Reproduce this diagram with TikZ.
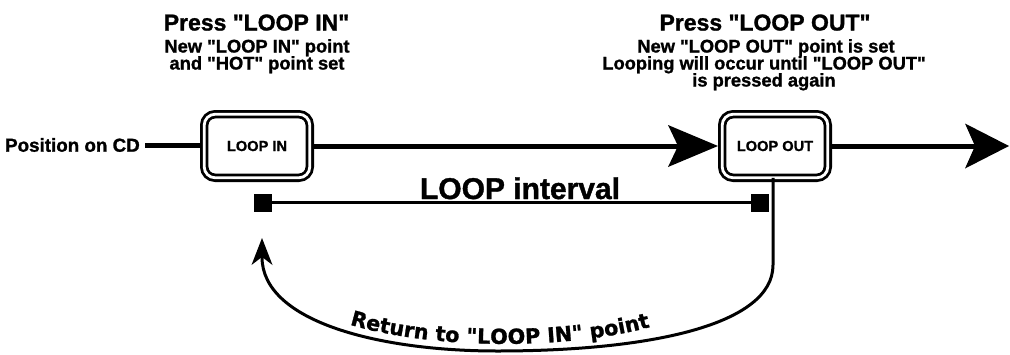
\documentclass[tikz,border=0pt]{standalone}
\usepackage{fontspec}
\setmainfont{Liberation Sans}[BoldFeatures={FakeBold=1.2}]
\newfontfamily\dejav{DejaVu Sans}[BoldFeatures={FakeBold=1.2}]
\newcommand\dq{\textquotedbl}
\usetikzlibrary{arrows.meta,decorations.text}
\begin{document}
\begin{tikzpicture}[x=1pt,y=-1pt,
  btn/.style={draw=black, double=white, line width=2.8pt, double distance=2.8pt,
    rounded corners=11pt, fill=white, minimum width=105.6pt, minimum height=63.6pt,
    outer sep=4.2pt, inner sep=0pt, font=\bfseries\fontsize{14.6}{14.6}\selectfont},
  titlef/.style={anchor=base, inner sep=0pt, font=\bfseries\fontsize{23}{23}\selectfont},
  subf/.style={anchor=base, inner sep=0pt, font=\bfseries\fontsize{18.3}{18.3}\selectfont},
  mainline/.style={line width=5pt},
  bigtip/.style={-{Stealth[length=50pt,width=42pt,inset=10pt,line width=0pt]}},
  endtip/.style={-{Stealth[length=44pt,width=45pt,inset=10pt,line width=0pt]}},
  sq/.style={fill=black, minimum size=18pt, inner sep=0pt},
  retline/.style={line width=3pt, -{Stealth[length=27pt,width=21pt,inset=8pt,line width=0pt]}}
]
\useasboundingbox[fill=white] (0,0) rectangle (1010,354);

% top texts
\node[titlef] (t1) at (256.5,30.5) {Press \dq{}LOOP IN\dq};
\node[subf] (t1a) at (257,52.5) {New \dq{}LOOP IN\dq{} point};
\node[subf] (t1b) at (257,69.5) {and \dq{}HOT\dq{} point set};
\node[titlef] (t2) at (765,30.5) {Press \dq{}LOOP OUT\dq};
\node[subf] (t2a) at (766,52.5) {New \dq{}LOOP OUT\dq{} point is set};
\node[subf] (t2b) at (764,69.5) {Looping will occur until \dq{}LOOP OUT\dq};
\node[subf] (t2c) at (764,86.5) {is pressed again};

% main timeline
\node[anchor=east, inner sep=0pt, font=\bfseries\fontsize{18.8}{18.8}\selectfont] (pos) at (140,145) {Position on CD};
\node[btn] (loopin) at (257,146) {LOOP IN};
\node[btn] (loopout) at (775,146) {LOOP OUT};
\coordinate (end) at (1009,146);
\draw[mainline, shorten <=5pt] (pos.east) -- (pos.east -| loopin.west);
\draw[mainline, bigtip] (loopin.east) -- (loopout.west);
\draw[mainline, endtip] (loopout.east) -- (end);

% interval
\node[sq] (sqL) at (262.5,202.5) {};
\node[sq] (sqR) at (760,202.5) {};
\draw[line width=2.5pt] (sqL) -- (sqR);
\node[anchor=base, inner sep=0pt, font=\bfseries\fontsize{30}{30}\selectfont] (intl) at (520,199) {LOOP interval};

% return arc
\coordinate (ret) at (262,238);
\draw[retline] ([xshift=-2pt,yshift=4.2pt]loopout.south) -- (773,265)
  .. controls (773,325) and (650,351) .. (497,351)
  .. controls (380,351) and (262,322) .. (ret);
\coordinate (tA) at (330,318);
\coordinate (tB) at (670,321);
\path[decorate, decoration={text along path,
  text={|\dejav\bfseries\fontsize{20.7}{20.7}\selectfont|Return to "LOOP IN" point},
  text align=center}] (tA) .. controls (420,352) and (580,352) .. (tB);
\end{tikzpicture}
\end{document}
